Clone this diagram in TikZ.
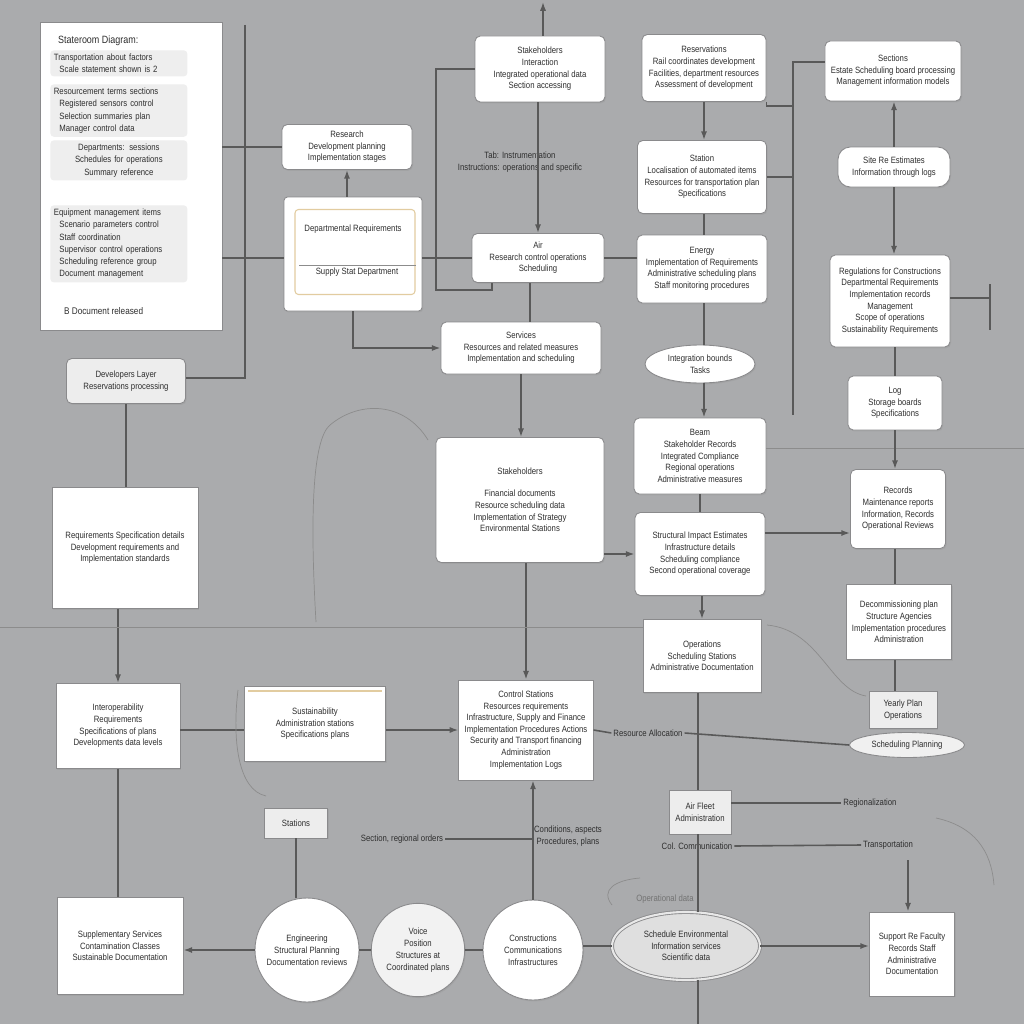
\documentclass[tikz,border=0pt]{standalone}
\usepackage{fontspec}
\setmainfont{Liberation Sans}[FakeStretch=0.85]
\usetikzlibrary{shapes}
\usetikzlibrary{positioning}
\usetikzlibrary{arrows.meta}
\usetikzlibrary{shadows}
\definecolor{bggray}{RGB}{170,171,173}
\definecolor{boxline}{RGB}{138,138,140}
\definecolor{peach}{RGB}{226,204,160}
\tikzset{
    box/.style = {rectangle, rounded corners=3pt, draw=boxline, line width=0.5pt, fill=white, align=center, font=\fontsize{5.2}{6.6}\selectfont, text=black!82, drop shadow={opacity=0.18,shadow xshift=0.6pt,shadow yshift=-0.8pt}},
    panel/.style = {box, rounded corners=0pt},
    greybox/.style = {box, fill=gray!14},
    shade/.style = {rectangle, rounded corners=2pt, fill=gray!13, align=left, text width=2.6cm, font=\fontsize{5.2}{7}\selectfont, text=black!82, inner sep=2pt},
    circ/.style = {circle, draw=boxline, line width=0.5pt, fill=white, align=center, font=\fontsize{5.2}{6.8}\selectfont, text=black!82, drop shadow={opacity=0.18,shadow xshift=0.6pt,shadow yshift=-0.8pt}},
    oval/.style = {ellipse, draw=boxline, line width=0.5pt, fill=white, align=center, font=\fontsize{5.2}{6.6}\selectfont, text=black!82, inner sep=0pt},
    sz/.style 2 args = {minimum width=#1*0.02cm, minimum height=#2*0.02cm},
    lbl/.style = {font=\fontsize{5.2}{6.6}\selectfont, text=black!82, inner sep=1pt, align=center},
    conn/.style = {draw=black!65, line width=0.9pt},
    arr/.style = {conn, -{Latex[length=5pt,width=3.5pt]}},
    thinl/.style = {draw=black!45, line width=0.4pt},
}
\begin{document}
\begin{tikzpicture}[x=0.02cm, y=-0.02cm]
\fill[bggray] (0,0) rectangle (1024,1024);
\useasboundingbox (0,0) rectangle (1024,1024);
% left panel
\node[panel, sz={182}{308}] at (131,176) (panel) {};
\node[lbl, anchor=west, font=\fontsize{6}{7}\selectfont] at (56,41) (ptitle) {Stateroom Diagram:};
\node[shade, anchor=north west] at (50,50) (pblk1) {Transportation about factors\\ \; Scale statement shown is 2};
\node[shade, anchor=north west] at (50,84) (pblk2) {Resourcement terms sections\\ \; Registered sensors control\\ \; Selection summaries plan\\ \; Manager control data};
\node[shade, anchor=north west, align=center] at (50,140) (pblk3) {Departments: sessions\\ Schedules for operations\\ Summary reference};
\node[shade, anchor=north west] at (50,205) (pblk4) {Equipment management items\\ \; Scenario parameters control\\ \; Staff coordination\\ \; Supervisor control operations\\ \; Scheduling reference group\\ \; Document management};
\node[lbl, anchor=west, font=\fontsize{5.5}{7}\selectfont] at (62,311) (pfoot) {B Document released};
% upper left
\node[box, sz={130}{45}] at (347,147) (resA) {Research\\ Development planning\\ Implementation stages};
\node[box, sz={138}{114}, rounded corners=2pt] at (353,254) (depB) {};
\node[rectangle, rounded corners=2pt, draw=peach, line width=0.6pt, fill=white, sz={120}{85}] at (355,252) (depIn) {};
\node[lbl] at (353,229) (depT) {Departmental Requirements};
\node[lbl] at (357,272) (depS) {Supply Stat Department};
\draw[thinl] (depIn.west |- 0,265) ++(5,0) -- (depIn.east |- 0,265);
% top row
\node[box, sz={130}{66}] at (540,69) (stake) {Stakeholders\\ Interaction\\ Integrated operational data\\ Section accessing};
\node[box, sz={124}{67}] at (704,68) (reserv) {Reservations\\ Rail coordinates development\\ Facilities, department resources\\ Assessment of development};
\node[box, sz={129}{60}] at (893,71) (sect) {Sections\\ Estate Scheduling board processing\\ Management information models};
\node[box, sz={129}{73}] at (702,177) (station) {Station\\ Localisation of automated items\\ Resources for transportation plan\\ Specifications};
\node[box, sz={112}{40}, rounded corners=7pt] at (894,167) (siteR) {Site Re Estimates\\ Information through logs};
\node[lbl] at (520,162) (tabL) {Tab: Instrumentation\\ Instructions: operations and specific};
\node[box, sz={132}{49}] at (538,258) (air) {Air\\ Research control operations\\ Scheduling};
\node[box, sz={130}{68}] at (702,269) (energy) {Energy\\ Implementation of Requirements\\ Administrative scheduling plans\\ Staff monitoring procedures};
\node[box, sz={120}{92}] at (890,301) (regul) {Regulations for Constructions\\ Departmental Requirements\\ Implementation records\\ Management\\ Scope of operations\\ Sustainability Requirements};
\node[box, sz={160}{52}] at (521,348) (serv) {Services\\ Resources and related measures\\ Implementation and scheduling};
\node[oval, sz={110}{38}, drop shadow={opacity=0.18,shadow xshift=0.6pt,shadow yshift=-0.8pt}] at (700,364) (integ) {Integration bounds\\ Tasks};
\node[box, sz={94}{54}] at (895,403) (logR) {Log\\ Storage boards\\ Specifications};
\node[box, sz={132}{76}] at (700,456) (beam) {Beam\\ Stakeholder Records\\ Integrated Compliance\\ Regional operations\\ Administrative measures};
\node[box, sz={168}{125}] at (520,500) (stakeC) {Stakeholders\\[6pt] Financial documents\\ Resource scheduling data\\ Implementation of Strategy\\ Environmental Stations};
% left column
\node[greybox, sz={119}{45}] at (126,381) (devL) {Developers Layer\\ Reservations processing};
\node[box, sz={146}{121}, rounded corners=0pt] at (125,548) (reqL) {Requirements Specification details\\ Development requirements and\\ Implementation standards};
\node[box, sz={95}{79}] at (898,509) (records) {Records\\ Maintenance reports\\ Information, Records\\ Operational Reviews};
\node[box, sz={130}{83}] at (700,554) (struct) {Structural Impact Estimates\\ Infrastructure details\\ Scheduling compliance\\ Second operational coverage};
\node[box, sz={98}{75}, rounded corners=0pt] at (899,622) (decom) {Decommissioning plan\\ Structure Agencies\\ Implementation procedures\\ Administration};
\node[box, sz={118}{73}, rounded corners=0pt] at (702,656) (oper) {Operations\\ Scheduling Stations\\ Administrative Documentation};
\node[box, sz={124}{85}, rounded corners=0pt] at (118,726) (interop) {Interoperability\\ Requirements\\ Specifications of plans\\ Developments data levels};
\node[box, sz={141}{75}, rounded corners=0pt] at (315,724) (sustain) {Sustainability\\ Administration stations\\ Specifications plans};
\draw[draw=peach, line width=0.8pt] ([xshift=0.08cm,yshift=-0.1cm]sustain.north west) -- ([xshift=-0.08cm,yshift=-0.1cm]sustain.north east);
\node[box, sz={130}{100}, rounded corners=0pt] at (526,730) (control) {Control Stations\\ Resources requirements\\ Infrastructure, Supply and Finance\\ Implementation Procedures Actions\\ Security and Transport financing\\ Administration\\ Implementation Logs};
\node[greybox, sz={68}{37}, rounded corners=0pt] at (903,710) (yearly) {Yearly Plan\\ Operations};
\node[oval, sz={115}{25}, fill=gray!12] at (907,745) (schedR) {Scheduling Planning};
\node[lbl] at (648,733) (resAl) {Resource Allocation};
\node[greybox, sz={62}{44}, rounded corners=0pt] at (700,812) (fleet) {Air Fleet\\ Administration};
\node[greybox, sz={63}{30}, rounded corners=0pt] at (296,823) (stat) {Stations};
\node[lbl] at (402,839) (secL) {Section, regional orders};
\node[lbl] at (568,836) (condL) {Conditions, aspects\\ Procedures, plans};
\node[lbl] at (697,846) (colL) {Col. Communication};
\node[lbl] at (870,803) (regL) {Regionalization};
\node[lbl] at (888,845) (trnL) {Transportation};
\node[lbl, text=black!55] at (665,899) (opL) {Operational data};
% bottom row
\node[box, sz={126}{97}, rounded corners=0pt] at (120,946) (suppl) {Supplementary Services\\ Contamination Classes\\ Sustainable Documentation};
\node[circ, minimum size=104*0.02cm] at (307,950) (engin) {Engineering\\ Structural Planning\\ Documentation reviews};
\node[circ, minimum size=90*0.02cm, fill=white!90!gray] at (418,950) (voice) {Voice\\ Position\\ Structures at\\ Coordinated plans};
\node[circ, minimum size=100*0.02cm] at (533,950) (constr) {Constructions\\ Communications\\ Infrastructures};
\node[oval, sz={148}{68}, fill=gray!25, double=gray!18, double distance=1.2pt] at (686,946) (envir) {Schedule Environmental\\ Information services\\ Scientific data};
\node[box, sz={85}{84}, rounded corners=0pt] at (912,954) (support) {Support Re Faculty\\ Records Staff\\ Administrative\\ Documentation};
% free ends
\coordinate (topEnd) at (543,2);
\coordinate (vlTop) at (245,25);
\coordinate (vlBot) at (245,378);
\coordinate (kTop) at (436,69);
\coordinate (kBot) at (436,290);
\coordinate (kEnd) at (492,290);
\coordinate (vrTop) at (793,62);
\coordinate (vrBot) at (793,415);
\coordinate (hrEnd) at (1024,448);
\coordinate (hlEnd) at (0,627);
\coordinate (botEnd) at (698,1024);
\coordinate (rrEnd) at (990,298);
\coordinate (spTop) at (908,860);
\coordinate (hRow) at (0,730);
\coordinate (bRow) at (0,950);
% connectors left
\draw[conn] (vlTop) -- (vlBot) -- (vlBot -| devL.east);
\draw[conn] (panel.east |- resA.west) -- (resA.west);
\draw[conn] (panel.east |- 0,258) -- (depB.west |- 0,258);
\draw[arr] (depB.north -| resA.south) -- (resA.south);
\draw[arr] (depB.south) |- (serv.west);
\draw[conn] (depB.east |- 0,258) -- (air.west |- 0,258);
\draw[conn] (devL.south) -- (reqL.north -| devL.south);
\draw[arr] (interop.north |- reqL.south) -- (interop.north);
\draw[conn] (interop.south) -- (interop.south |- suppl.north);
\draw[conn] (interop.east |- hRow) -- (sustain.west |- hRow);
\draw[arr] (sustain.east |- hRow) -- (control.west |- hRow);
% connectors center
\draw[arr] (stake.north -| topEnd) -- (topEnd);
\draw[arr] (air.north |- stake.south) -- (air.north);
\draw[conn] (stake.west) -- (kTop) -- (kBot) -- (kEnd) -- (kEnd |- air.south);
\draw[conn] (air.south -| 530,0) -- (serv.north -| 530,0);
\draw[arr] (serv.south) -- (stakeC.north -| serv.south);
\draw[arr] (stakeC.south -| control.north) -- (control.north);
\draw[arr] (stakeC.east |- struct.west) -- (struct.west);
\draw[conn] (air.east) -- (air.east -| energy.west);
% connectors middle column
\draw[arr] (reserv.south) -- (station.north -| reserv.south);
\draw[conn] (station.south -| reserv.south) -- (energy.north -| reserv.south);
\draw[conn] (energy.south -| reserv.south) -- (integ.north -| reserv.south);
\draw[arr] (integ.south -| reserv.south) -- (beam.north -| reserv.south);
\draw[conn] (beam.south) -- (struct.north);
\draw[arr] (oper.north |- struct.south) -- (oper.north);
\draw[conn] (oper.south -| botEnd) -- (fleet.north -| botEnd);
\draw[conn] (fleet.south -| botEnd) -- (envir.north -| botEnd);
\draw[conn] (envir.south -| botEnd) -- (botEnd);
\draw[arr] ([yshift=0.42cm]struct.east) -- ([yshift=0.42cm]struct.east -| records.west);
\draw[conn] (sect.west |- vrTop) -- (vrTop) -- (vrBot);
\draw[conn] (reserv.south east) |- (vrTop |- 0,106);
\draw[conn] (station.east) -- (station.east -| vrTop);
\draw[thinl] (hrEnd -| beam.east) -- (hrEnd);
\draw[thinl] (hlEnd) -- (hlEnd -| oper.west);
% connectors right column
\draw[arr] (siteR.north) -- (sect.south -| siteR.north);
\draw[arr] (siteR.south) -- (regul.north -| siteR.south);
\draw[conn] (regul.south -| logR.north) -- (logR.north);
\draw[arr] (logR.south) -- (records.north -| logR.south);
\draw[conn] (records.south -| logR.south) -- (decom.north -| logR.south);
\draw[conn] (decom.south -| logR.south) -- (yearly.north -| logR.south);
\draw[conn] (regul.east |- rrEnd) -- (rrEnd);
\draw[conn] (rrEnd) ++(0,-14) -- ++(0,46);
\draw[conn] (control.east) -- (resAl.west);
\draw[conn] (resAl.east) -- (schedR.west);
\draw[conn] (fleet.east |- regL.west) -- (regL.west);
\draw[conn] (colL.east) -- (trnL.west);
\draw[arr] (spTop) -- (spTop |- support.north);
% connectors bottom
\draw[conn] (engin.north -| stat.south) -- (stat.south);
\draw[conn] (secL.east) -- (secL.east -| constr.north);
\draw[arr] (constr.north) -- (control.south -| constr.north);
\draw[arr] (engin.west |- bRow) -- (suppl.east |- bRow);
\draw[conn] (engin.east) -- (voice.west);
\draw[conn] (voice.east) -- (constr.west);
\draw[conn] (constr.east |- envir.west) -- (envir.west);
\draw[arr] (envir.east) -- (envir.east -| support.west);
% thin curves
\draw[thinl] (316,622) .. controls (310,520) and (312,440) .. (330,425) .. controls (360,400) and (405,402) .. (428,440);
\draw[thinl] (767,625) .. controls (820,630) and (830,690) .. (866,696);
\draw[thinl] (936,818) .. controls (982,828) and (992,860) .. (994,885);
\draw[thinl] (238,690) .. controls (232,740) and (238,790) .. (266,796);
\draw[thinl] (612,905) .. controls (600,890) and (615,880) .. (640,878);
\end{tikzpicture}
\end{document}
